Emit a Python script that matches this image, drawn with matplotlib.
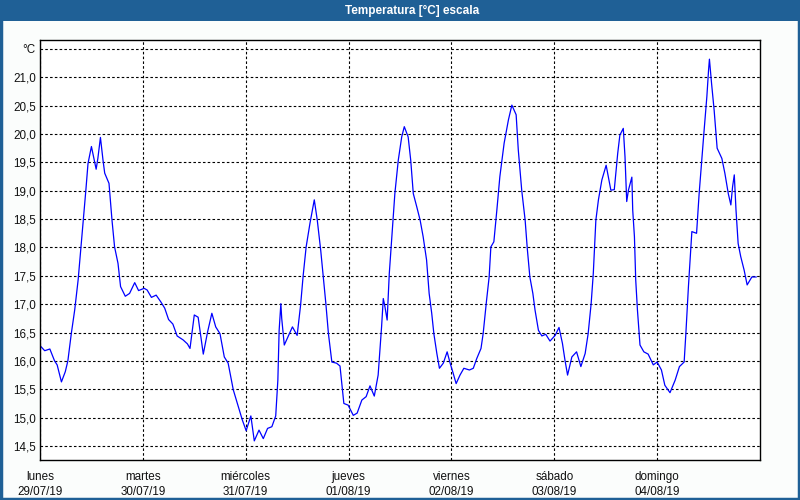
import matplotlib
matplotlib.use("Agg")
import matplotlib.pyplot as plt
from matplotlib.patches import Rectangle

# ---- data: hours since 29/07/19 00:00, temperature in °C ----
hours = [0.0, 1.1, 2.3, 3.4, 4.0, 5.0, 5.9, 6.5, 7.3, 8.1, 8.9, 9.5, 10.0, 10.7, 11.2, 12.0,
         12.5, 13.1, 13.5, 14.1, 14.7, 15.1, 16.1, 16.8, 17.4, 18.2, 18.8, 19.9, 20.9, 22.1,
         23.0, 24.3, 25.0, 26.0, 27.1, 28.2, 29.1, 30.0, 31.0, 32.0, 33.4, 34.4, 35.0, 36.0,
         36.9, 38.1, 39.1, 40.1, 41.0, 42.0, 43.0, 43.9, 45.1, 46.3, 47.2, 48.1, 49.2, 50.0,
         51.1, 52.1, 53.1, 54.1, 55.0, 55.5, 55.8, 56.2, 56.4, 57.0, 57.9, 58.9, 60.0, 60.8,
         61.4, 62.1, 63.0, 64.0, 64.7, 65.5, 66.1, 66.7, 67.3, 68.1, 69.2, 70.0, 70.9, 71.9,
         73.1, 74.0, 75.1, 76.1, 77.0, 78.0, 78.9, 79.7, 80.1, 80.5, 81.0, 81.5, 82.1, 82.8,
         83.6, 84.4, 85.0, 85.9, 86.5, 87.1, 87.9, 88.7, 89.4, 90.2, 90.8, 91.4, 91.9, 92.6,
         93.2, 94.1, 95.0, 95.7, 96.3, 97.1, 98.0, 98.9, 100.2, 101.1, 101.9, 102.9, 103.4,
         104.2, 104.8, 105.2, 105.9, 106.6, 107.3, 108.3, 109.3, 110.1, 111.1, 111.6, 112.4,
         113.2, 113.7, 114.3, 115.0, 115.5, 116.3, 117.1, 118.0, 119.0, 120.2, 121.1, 121.9,
         122.5, 123.1, 124.1, 125.2, 126.2, 127.2, 127.9, 128.6, 129.1, 129.7, 130.3, 131.1,
         132.1, 132.6, 133.2, 134.0, 134.8, 135.3, 136.1, 136.5, 136.9, 137.3, 138.1, 138.3,
         138.7, 139.0, 139.4, 140.0, 140.9, 141.9, 143.1, 144.0, 145.0, 145.8, 147.0, 148.2,
         149.2, 150.3, 150.7, 151.3, 152.1, 153.2, 153.8, 154.4, 154.9, 155.6, 156.0, 156.2,
         156.7, 157.3, 158.0, 159.1, 159.8, 160.6, 161.2, 161.6, 162.0, 162.4, 162.9, 163.5,
         164.3, 165.0, 166.1, 167.1]
temps = [16.27, 16.18, 16.21, 16.00, 15.93, 15.63, 15.81, 16.00, 16.48, 16.90, 17.43, 17.95,
         18.37, 19.01, 19.48, 19.78, 19.60, 19.38, 19.57, 19.94, 19.54, 19.31, 19.13, 18.48,
         18.01, 17.72, 17.31, 17.14, 17.19, 17.38, 17.24, 17.28, 17.25, 17.12, 17.16, 17.04,
         16.93, 16.73, 16.65, 16.44, 16.37, 16.30, 16.22, 16.81, 16.77, 16.12, 16.51, 16.84,
         16.60, 16.48, 16.07, 15.96, 15.49, 15.19, 14.96, 14.77, 15.03, 14.59, 14.78, 14.63,
         14.81, 14.84, 15.03, 15.66, 16.54, 17.01, 16.75, 16.28, 16.43, 16.60, 16.45, 16.98,
         17.50, 18.01, 18.43, 18.84, 18.48, 17.95, 17.48, 17.01, 16.48, 15.98, 15.96, 15.91,
         15.25, 15.22, 15.04, 15.08, 15.31, 15.37, 15.56, 15.38, 15.75, 16.60, 17.10, 16.95,
         16.72, 17.54, 18.19, 18.95, 19.54, 19.95, 20.13, 19.95, 19.54, 18.95, 18.72, 18.48,
         18.19, 17.78, 17.19, 16.84, 16.48, 16.13, 15.87, 15.96, 16.16, 15.96, 15.81, 15.60,
         15.75, 15.87, 15.84, 15.87, 16.04, 16.22, 16.48, 17.07, 17.48, 18.01, 18.10, 18.66,
         19.25, 19.84, 20.25, 20.51, 20.34, 19.72, 19.01, 18.48, 17.98, 17.48, 17.19, 16.90,
         16.54, 16.44, 16.47, 16.35, 16.45, 16.59, 16.31, 16.01, 15.75, 16.07, 16.16, 15.90,
         16.13, 16.48, 17.01, 17.54, 18.48, 18.84, 19.19, 19.45, 19.25, 19.01, 19.02, 19.66,
         19.98, 20.10, 19.60, 18.81, 19.01, 19.24, 18.66, 18.19, 17.43, 16.90, 16.28, 16.16,
         16.12, 15.93, 15.98, 15.84, 15.57, 15.44, 15.66, 15.90, 15.98, 16.48, 17.31, 18.28,
         18.25, 18.95, 19.54, 20.01, 20.66, 21.13, 21.32, 20.89, 20.42, 19.75, 19.57, 19.31,
         18.95, 18.75, 19.07, 19.28, 18.66, 18.07, 17.84, 17.60, 17.34, 17.48, 17.48]

day_names = ["lunes", "martes", "miércoles", "jueves", "viernes", "sábado", "domingo"]
day_dates = ["29/07/19", "30/07/19", "31/07/19", "01/08/19", "02/08/19", "03/08/19", "04/08/19"]
y_ticks = [14.5, 15.0, 15.5, 16.0, 16.5, 17.0, 17.5, 18.0, 18.5, 19.0, 19.5, 20.0, 20.5, 21.0, 21.5]
title = "Temperatura [°C] escala"
unit = "°C"

# ---- figure ----
plt.rcParams['font.family'] = ['Liberation Sans', 'DejaVu Sans']
fig = plt.figure(figsize=(8, 5), dpi=100, facecolor="#fbfdfc")

blue = "#1f6096"
fig.patches.append(Rectangle((0, 1 - 21 / 500), 1, 21 / 500, transform=fig.transFigure,
                             facecolor=blue, edgecolor="none", zorder=0))
fig.patches.append(Rectangle((0.001, 0.002), 0.998, 0.996, transform=fig.transFigure,
                             facecolor="none", edgecolor=blue, linewidth=2.5, zorder=1))
fig.text(412 / 800, 1 - 10.5 / 500, title, color="white", fontsize=8.5, fontweight="bold",
         ha="center", va="center")

ax = fig.add_axes([40 / 800, 40 / 500, 720 / 800, 420 / 500])
ax.set_facecolor("white")
ax.plot(hours, temps, color="#0000ff", linewidth=0.9)

ax.set_xlim(0, 168)
ax.set_ylim(14.253, 21.658)

ax.set_yticks(y_ticks)
ax.set_yticklabels([f"{v:.1f}".replace(".", ",") if v < 21.4 else unit for v in y_ticks])
xt = [24 * i for i in range(len(day_names))]
ax.set_xticks(xt)
ax.set_xticklabels([f"{n}\n{d}" for n, d in zip(day_names, day_dates)], linespacing=1.35)

ax.tick_params(axis="both", length=0, labelsize=8.4, colors="#111111")
ax.tick_params(axis="x", pad=8)
ax.tick_params(axis="y", pad=3)

ax.grid(True, color="black", linestyle=(0, (2.3, 2.0)), linewidth=0.8)
for s in ax.spines.values():
    s.set_color("black")
    s.set_linewidth(1.0)

fig.savefig("out.png", dpi=100, facecolor=fig.get_facecolor())
